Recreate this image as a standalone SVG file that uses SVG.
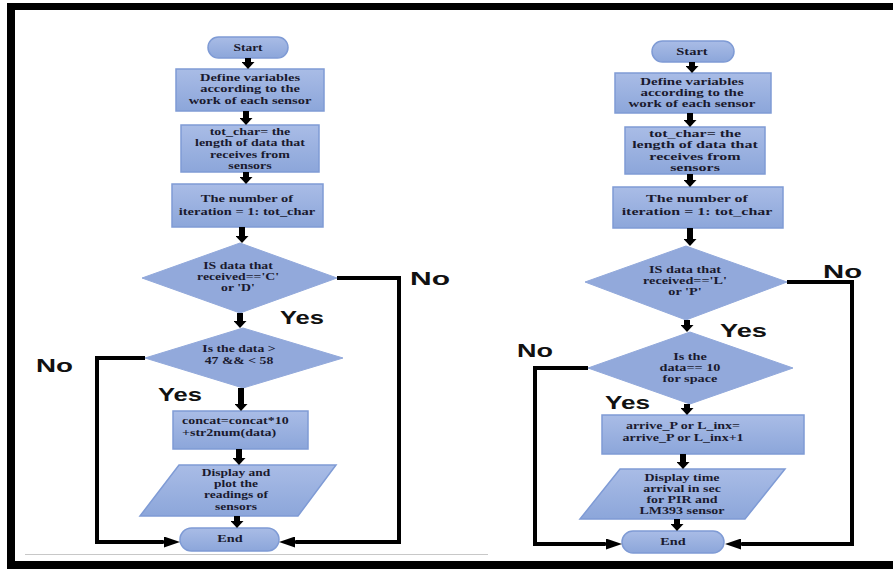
<svg xmlns="http://www.w3.org/2000/svg" width="893" height="569" viewBox="0 0 893 569">
<defs>
<linearGradient id="g" x1="0" y1="0" x2="0" y2="1"><stop offset="0" stop-color="#A9BCE6"/><stop offset="1" stop-color="#8CA6DA"/></linearGradient>
<marker id="ah" viewBox="0 0 7 13" refX="0" refY="6.5" markerWidth="7" markerHeight="13" markerUnits="userSpaceOnUse" orient="auto"><path d="M0,0 L7,6.5 L0,13 z" fill="#000"/></marker>
<marker id="ah2" viewBox="0 0 16 11" refX="0" refY="5.5" markerWidth="16" markerHeight="11" markerUnits="userSpaceOnUse" orient="auto"><path d="M0,0 L16,5.5 L0,11 z" fill="#000"/></marker>
</defs>
<style>
.b{fill:url(#g);stroke:#7F9BD5;stroke-width:1.5}
.d{fill:#92A9DB;stroke:#92A9DB;stroke-width:1}
.t{font-family:"Liberation Serif",serif;font-weight:bold;font-size:10px;fill:#1a1a2e;text-anchor:middle}
.s{font-size:9.5px}
.l{font-family:"Liberation Sans",Arial,sans-serif;font-weight:bold;font-size:19px;fill:#111}
.a{stroke:#000;stroke-width:6;fill:none;marker-end:url(#ah)}
.c{stroke:#000;stroke-width:4;fill:none;stroke-linejoin:miter}
.e{stroke:#000;stroke-width:3.5;fill:none;marker-end:url(#ah2)}
</style>
<rect width="893" height="569" fill="#fff"/>
<g id="frame">
<rect x="7" y="3" width="886" height="7" fill="#000"/>
<rect x="7" y="3" width="8" height="566" fill="#000"/>
<rect x="7" y="561" width="886" height="8" fill="#000"/>
<line x1="25" y1="554.5" x2="488" y2="554.5" stroke="#c8c8c8" stroke-width="1"/>
</g>
<!-- LEFT -->
<g id="L_start"><rect class="b" x="208" y="37" width="80" height="21" rx="10.5"/><g transform="matrix(1.35,0,0,1,248,0)"><text class="t" x="0" y="51">Start</text></g></g>
<g id="L_define"><rect class="b" x="176" y="69" width="148" height="42"/><g transform="matrix(1.45,0,0,1,250,0)"><text class="t" x="0" y="81">Define variables</text><text class="t" x="0" y="92.5">according to the</text><text class="t" x="0" y="104">work of each sensor</text></g></g>
<g id="L_totchar"><rect class="b" x="181" y="125" width="138" height="47"/><g transform="matrix(1.4,0,0,1,250,0)"><text class="t" x="0" y="135">tot_char= the</text><text class="t" x="0" y="146.5">length of data that</text><text class="t" x="0" y="158">receives from</text><text class="t" x="0" y="169">sensors</text></g></g>
<g id="L_iter"><rect class="b" x="172" y="184" width="151" height="43"/><g transform="matrix(1.45,0,0,1,247,0)"><text class="t" x="0" y="202">The number of</text><text class="t" x="0" y="215">iteration = 1: tot_char</text></g></g>
<g id="L_dec1"><polygon class="d" points="240,243 337,278 240,313 142,278"/><g transform="matrix(1.45,0,0,1,238,0)"><text class="t s" x="0" y="269">IS data that</text><text class="t s" x="0" y="280">received=='C'</text><text class="t s" x="0" y="291">or 'D'</text></g></g>
<g id="L_dec2"><polygon class="d" points="243,328 343,358 243,388 145,358"/><g transform="matrix(1.45,0,0,1,239,0)"><text class="t s" x="0" y="352">Is the data &gt;</text><text class="t s" x="0" y="364">47 &amp;&amp; &lt; 58</text></g></g>
<g id="L_concat"><rect class="b" x="173" y="411" width="135" height="38"/><g transform="matrix(1.4,0,0,1,182,0)"><text class="t" x="0" y="424" style="text-anchor:start">concat=concat*10</text><text class="t" x="0" y="436" style="text-anchor:start">+str2num(data)</text></g></g>
<g id="L_display"><polygon class="b" points="179,465 336,465 298,516 140,516"/><g transform="matrix(1.35,0,0,1,236,0)"><text class="t" x="0" y="476">Display and</text><text class="t" x="0" y="487.5">plot the</text><text class="t" x="0" y="498.5">readings of</text><text class="t" x="0" y="510">sensors</text></g></g>
<g id="L_end"><rect class="b" x="180" y="528" width="99" height="23" rx="11.5"/><g transform="matrix(1.5,0,0,1,230,0)"><text class="t s" x="0" y="542">End</text></g></g>
<!-- RIGHT -->
<g id="R_start"><rect class="b" x="652" y="41" width="82" height="21" rx="10.5"/><g transform="matrix(1.45,0,0,1,692,0)"><text class="t" x="0" y="55">Start</text></g></g>
<g id="R_define"><rect class="b" x="615" y="73" width="156" height="40"/><g transform="matrix(1.5,0,0,1,692,0)"><text class="t" x="0" y="85">Define variables</text><text class="t" x="0" y="96">according to the</text><text class="t" x="0" y="107">work of each sensor</text></g></g>
<g id="R_totchar"><rect class="b" x="625" y="127" width="140" height="47"/><g transform="matrix(1.6,0,0,1,695,0)"><text class="t" x="0" y="137">tot_char= the</text><text class="t" x="0" y="148.5">length of data that</text><text class="t" x="0" y="160">receives from</text><text class="t" x="0" y="171">sensors</text></g></g>
<g id="R_iter"><rect class="b" x="613" y="187" width="170" height="41"/><g transform="matrix(1.6,0,0,1,697,0)"><text class="t" x="0" y="202">The number of</text><text class="t" x="0" y="215">iteration = 1: tot_char</text></g></g>
<g id="R_dec1"><polygon class="d" points="686,246 787,282 686,320 585,282"/><g transform="matrix(1.5,0,0,1,685,0)"><text class="t s" x="0" y="273">IS data that</text><text class="t s" x="0" y="284">received=='L'</text><text class="t s" x="0" y="295">or 'P'</text></g></g>
<g id="R_dec2"><polygon class="d" points="690,332 793,368 690,404 588,368"/><g transform="matrix(1.5,0,0,1,690,0)"><text class="t s" x="0" y="360">Is the</text><text class="t s" x="0" y="371">data== 10</text><text class="t s" x="0" y="382">for space</text></g></g>
<g id="R_arrive"><rect class="b" x="602" y="415" width="202" height="39"/><g transform="matrix(1.4,0,0,1,683,0)"><text class="t" x="0" y="429">arrive_P or L_inx=</text><text class="t" x="0" y="441">arrive_P or L_inx+1</text></g></g>
<g id="R_display"><polygon class="b" points="620,469 785,469 745,519 580,519"/><g transform="matrix(1.4,0,0,1,682,0)"><text class="t" x="0" y="481">Display time</text><text class="t" x="0" y="492">arrival in sec</text><text class="t" x="0" y="503">for PIR and</text><text class="t" x="0" y="514">LM393 sensor</text></g></g>
<g id="R_end"><rect class="b" x="622" y="531" width="102" height="22" rx="11"/><g transform="matrix(1.5,0,0,1,673,0)"><text class="t s" x="0" y="545.5">End</text></g></g>
<g id="connectors">
<line class="a" x1="248" y1="58" x2="248" y2="62"/>
<line class="a" x1="246" y1="111" x2="246" y2="118"/>
<line class="a" x1="246" y1="172" x2="246" y2="177"/>
<line class="a" x1="242" y1="227" x2="242" y2="236"/>
<line class="a" x1="240" y1="313" x2="240" y2="321"/>
<line class="a" x1="241" y1="388" x2="241" y2="404"/>
<line class="a" x1="239" y1="449" x2="239" y2="458"/>
<line class="a" x1="237" y1="516" x2="237" y2="521"/>
<polyline class="c" points="337,278 399,278 399,542 296,542"/>
<line class="e" x1="298" y1="542" x2="295" y2="542"/>
<polyline class="c" points="145,358 97,358 97,542 163,542"/>
<line class="e" x1="161" y1="542" x2="164" y2="542"/>
<line class="a" x1="692" y1="62" x2="692" y2="66"/>
<line class="a" x1="690" y1="113" x2="690" y2="120"/>
<line class="a" x1="690" y1="174" x2="690" y2="180"/>
<line class="a" x1="690" y1="228" x2="690" y2="239"/>
<line class="a" x1="687" y1="320" x2="687" y2="325"/>
<line class="a" x1="687" y1="404" x2="687" y2="408"/>
<line class="a" x1="683" y1="454" x2="683" y2="462"/>
<line class="a" x1="677" y1="519" x2="677" y2="524"/>
<polyline class="c" points="787,282 852,282 852,544 742,544"/>
<line class="e" x1="744" y1="544" x2="741" y2="544"/>
<polyline class="c" points="588,368 535,368 535,544 605,544"/>
<line class="e" x1="603" y1="544" x2="606" y2="544"/>
</g>
<g id="labels">
<text class="l" x="410" y="285" textLength="40" lengthAdjust="spacingAndGlyphs">No</text>
<text class="l" x="280" y="324" textLength="44" lengthAdjust="spacingAndGlyphs">Yes</text>
<text class="l" x="36" y="372" textLength="37" lengthAdjust="spacingAndGlyphs">No</text>
<text class="l" x="158" y="401" textLength="44" lengthAdjust="spacingAndGlyphs">Yes</text>
<text class="l" x="823" y="278" textLength="39" lengthAdjust="spacingAndGlyphs">No</text>
<text class="l" x="720" y="337" textLength="47" lengthAdjust="spacingAndGlyphs">Yes</text>
<text class="l" x="517" y="357" textLength="36" lengthAdjust="spacingAndGlyphs">No</text>
<text class="l" x="605" y="409" textLength="45" lengthAdjust="spacingAndGlyphs">Yes</text>
</g>
</svg>
